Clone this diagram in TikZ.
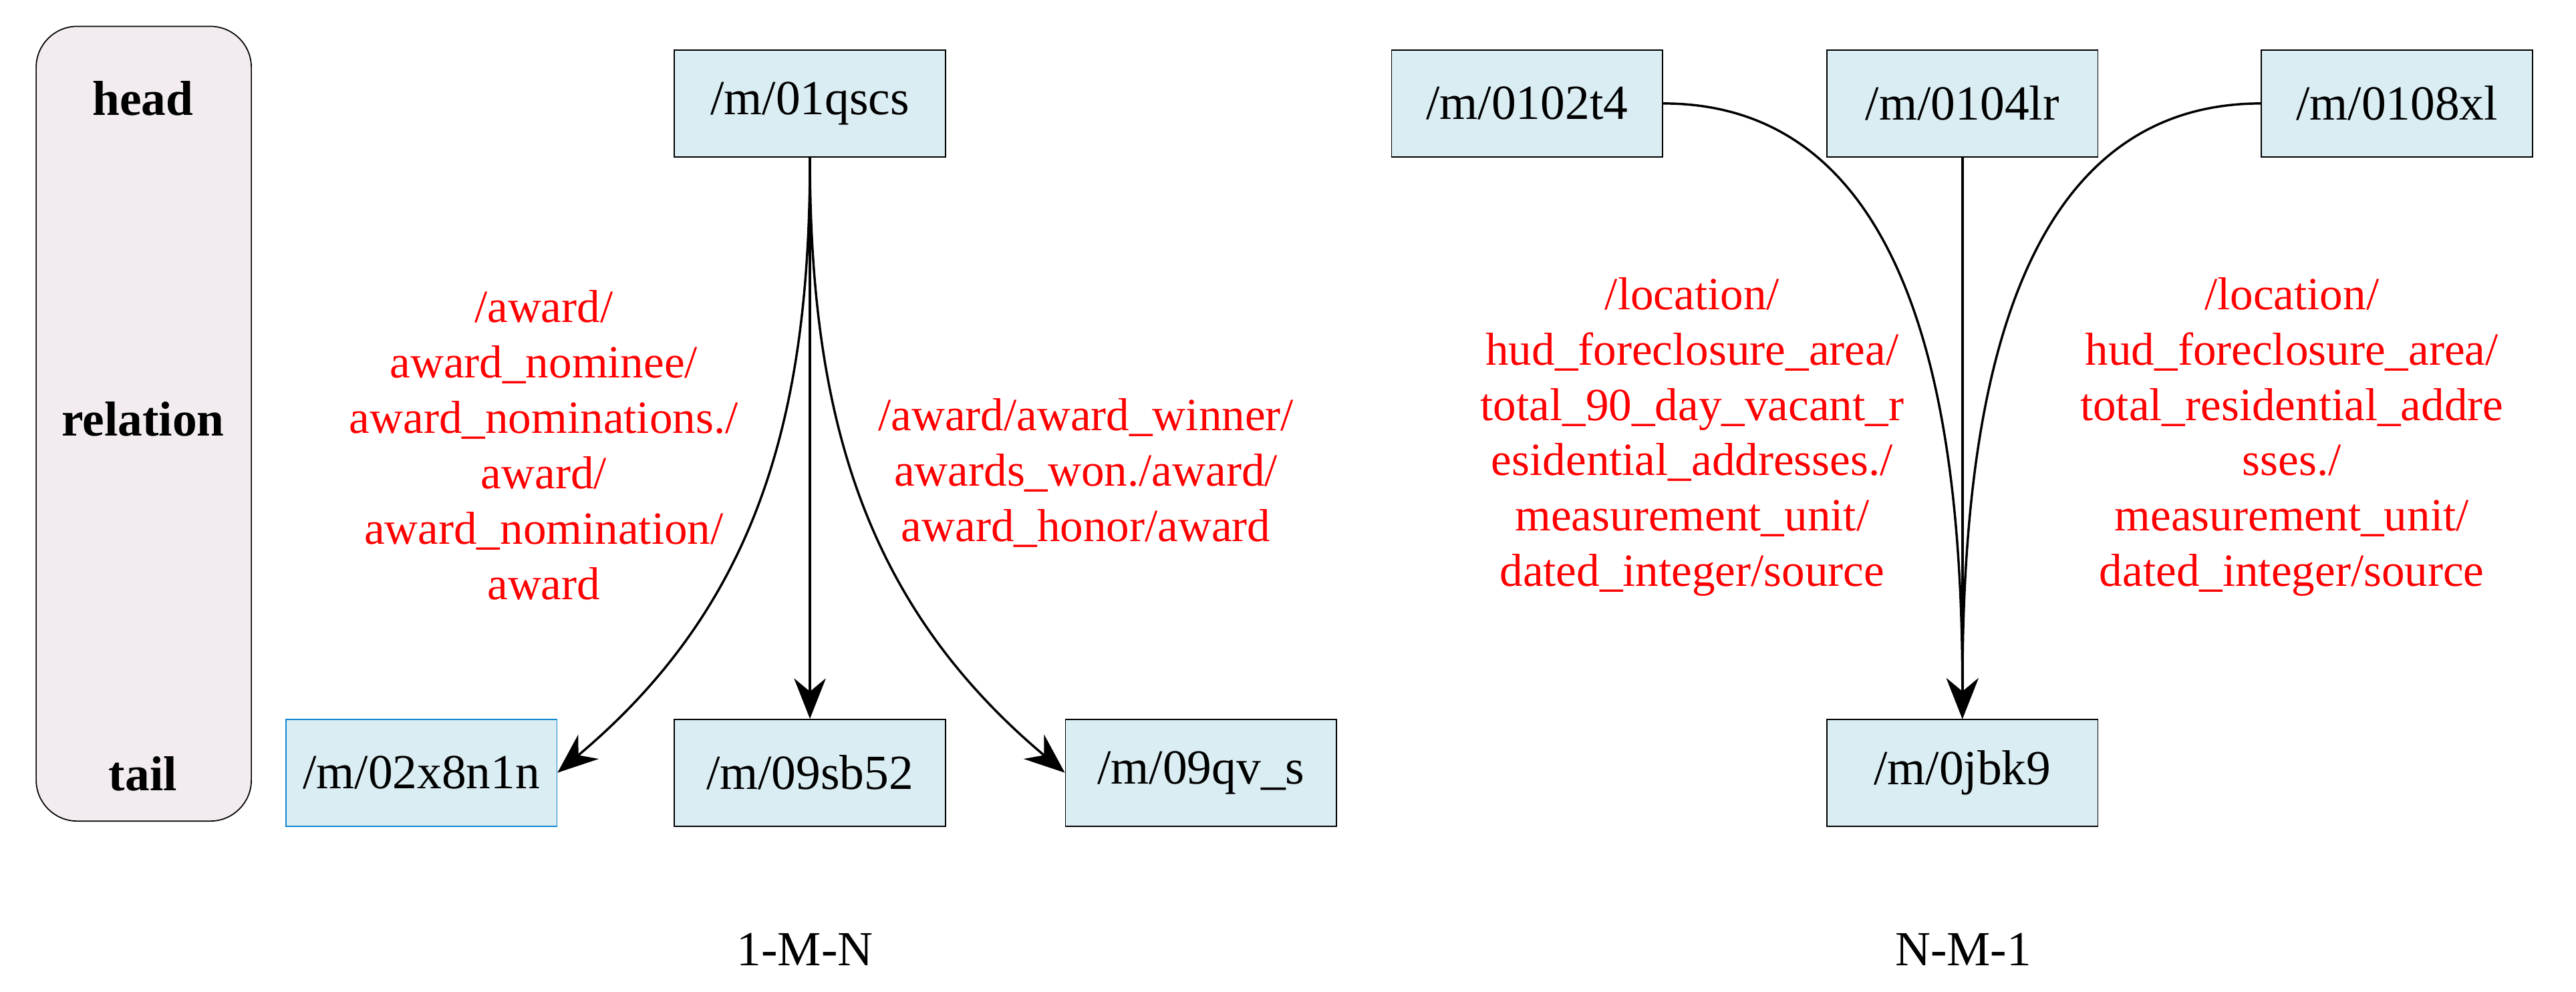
\documentclass[tikz,border=0pt]{standalone}
\usepackage{fontspec}
\setmainfont{Liberation Serif}
\usetikzlibrary{arrows.meta}
\begin{document}
\begin{tikzpicture}[x=0.02cm,y=-0.02cm,
  ent/.style={draw=black,fill=cyan!8!white!90!blue!5,minimum width=3.3cm,minimum height=1.3cm,inner sep=0pt,font=\fontsize{17}{20}\selectfont},
  rel/.style={text=red,align=center,font=\fontsize{16}{19.2}\selectfont},
  lab/.style={font=\fontsize{17}{20}\selectfont\bfseries},
  arr/.style={thick,-{Stealth[length=14pt,width=11pt]}}]
\useasboundingbox (0,0) rectangle (1568,604);
\definecolor{boxfill}{HTML}{DAEDF2}
\definecolor{sidefill}{HTML}{F2ECF0}
\tikzset{ent/.append style={fill=boxfill}}
\node[draw,fill=sidefill,rounded corners=0.5cm,minimum width=2.62cm,minimum height=9.68cm] (side) at (87.5,258) {};
\node[lab] (h) at (87,60) {head};
\node[lab] (r) at (87,255) {relation};
\node[lab] (t) at (87,471) {tail};
\node[ent] (a) at (493,63) {/m/01qscs};
\node[ent,draw=cyan!70!blue] (b1) at (256.5,470.5) {/m/02x8n1n};
\node[ent] (b2) at (493,470.5) {/m/09sb52};
\node[ent] (b3) at (731,470.5) {/m/09qv\_s};
\node[ent] (c1) at (929.5,63) {/m/0102t4};
\node[ent] (c2) at (1194.5,63) {/m/0104lr};
\node[ent] (c3) at (1459,63) {/m/0108xl};
\node[ent] (d) at (1194.5,470.5) {/m/0jbk9};
\draw[arr] (a.south) to[out=-90,in=40] (b1.east);
\draw[arr] (a.south) -- (b2.north);
\draw[arr] (a.south) to[out=-90,in=140] (b3.west);
\draw[arr] (c1.east) to[out=0,in=90] (d.north);
\draw[arr] (c2.south) -- (d.north);
\draw[arr] (c3.west) to[out=180,in=90] (d.north);
\node[rel] (l1) at (331,271) {/award/\\award\_nominee/\\award\_nominations./\\award/\\award\_nomination/\\award};
\node[rel] (l2) at (661,288) {/award/award\_winner/\\awards\_won./award/\\award\_honor/award};
\node[rel] (l3) at (1030,266) {/location/\\hud\_foreclosure\_area/\\total\_90\_day\_vacant\_r\\esidential\_addresses./\\measurement\_unit/\\dated\_integer/source};
\node[rel] (l4) at (1395,266) {/location/\\hud\_foreclosure\_area/\\total\_residential\_addre\\sses./\\measurement\_unit/\\dated\_integer/source};
\node[font=\fontsize{17}{20}\selectfont] (n1) at (490,578) {1-M-N};
\node[font=\fontsize{17}{20}\selectfont] (n2) at (1195,578) {N-M-1};
\end{tikzpicture}
\end{document}
